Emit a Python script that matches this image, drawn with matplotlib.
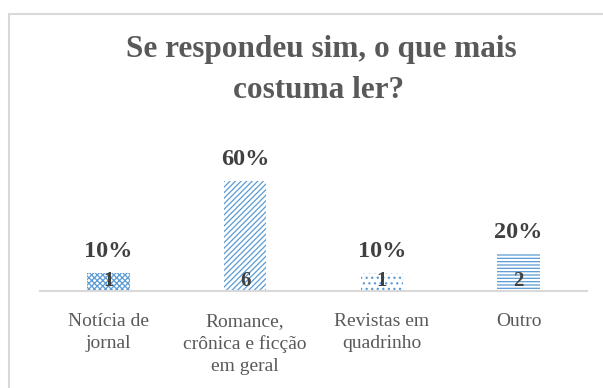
import matplotlib
matplotlib.use("Agg")
import matplotlib.pyplot as plt
from matplotlib.patches import Rectangle

categories = ["Notícia de\njornal", "Romance,\ncrônica e ficção\nem geral", "Revistas em\nquadrinho", "Outro"]
counts = [1, 6, 1, 2]
percents = ["10%", "60%", "10%", "20%"]
hatches = ["xxxxxx", "//////", "...", "-----"]
title_lines = ["Se respondeu sim, o que mais", "costuma ler?"]

W, H = 603, 388
plt.rcParams['font.family'] = ["Liberation Serif", "DejaVu Serif"]
plt.rcParams['hatch.linewidth'] = 0.9
fig = plt.figure(figsize=(W / 100, H / 100), dpi=100)

# chart border (extends beyond right/bottom edges as in reference)
fig.patches.append(Rectangle((9 / W, -0.1), 1.1, 1.1 - 14 / H, transform=fig.transFigure,
                             fill=False, edgecolor="#d9d9d9", linewidth=1.5))

ax = fig.add_axes([40 / W, 97 / H, 547 / W, 128 / H])
x = list(range(len(categories)))
bars = ax.bar(x, counts, width=0.31, color="white", edgecolor="#5b9bd5",
              linewidth=0)
for b, h in zip(bars, hatches):
    b.set_hatch(h)

ax.set_xlim(-0.5, 3.5)
ax.set_ylim(0, 7)
for s in ["top", "left", "right"]:
    ax.spines[s].set_visible(False)
ax.spines["bottom"].set_color("#d9d9d9")
ax.spines["bottom"].set_linewidth(1.5)
ax.set_yticks([])
ax.set_xticks(x)
ax.set_xticklabels(categories, fontsize=14, color="#595959", linespacing=1.35)
ax.tick_params(axis="x", length=0, pad=16)

for xi, c, p in zip(x, counts, percents):
    ax.annotate(p, (xi, c), xytext=(0, 8), textcoords="offset points",
                ha="center", va="bottom", fontweight="bold",
                fontsize=17.5, color="#404040")
    ax.annotate(str(c), (xi, 0), xytext=(0, 0), textcoords="offset points",
                ha="center", va="bottom", fontweight="bold",
                fontsize=15, color="#404040")

fig.text(321 / W, 1 - 50 / H, title_lines[0], ha="center", va="center",
         fontweight="bold", fontsize=22.5, color="#595959")
fig.text(319 / W, 1 - 90 / H, title_lines[1], ha="center", va="center",
         fontweight="bold", fontsize=22.5, color="#595959")

fig.savefig("out.png", dpi=100)
